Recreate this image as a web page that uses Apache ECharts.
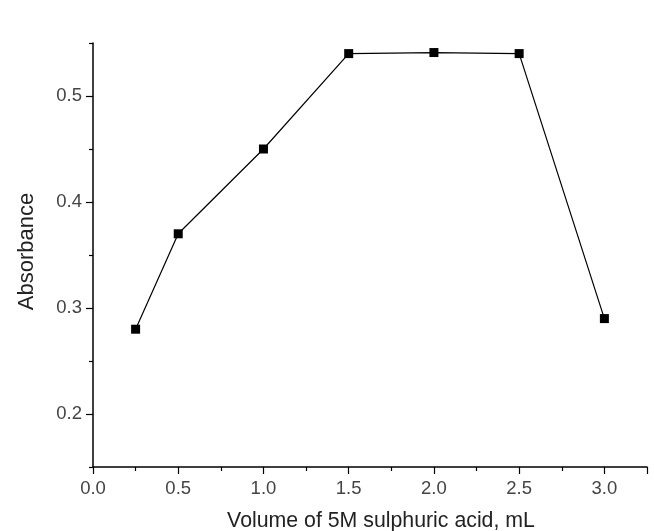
<!DOCTYPE html>
<html><head><meta charset="utf-8">
<script src="https://cdn.jsdelivr.net/npm/echarts@6/dist/echarts.min.js"></script>
<style>html,body{margin:0;padding:0;background:#fff}#c{width:654px;height:531px}</style>
</head><body><div id="c"></div>
<script>
const volumes = [0.25, 0.5, 1.0, 1.5, 2.0, 2.5, 3.0];
const absorbance = [0.28, 0.37, 0.45, 0.54, 0.541, 0.54, 0.29];
const xTitle = 'Volume of 5M sulphuric acid, mL';
const yTitle = 'Absorbance';
const yMajorTicks = [0.2, 0.3, 0.4, 0.5];
const yMinorTicks = [0.15, 0.25, 0.35, 0.45, 0.55];

const chart = echarts.init(document.getElementById('c'));
const font = '"Liberation Sans", Arial, Helvetica, sans-serif';
const tickLine = {color: '#000', width: 1.2};
chart.setOption({
  animation: false,
  backgroundColor: '#fff',
  grid: {left: 93, right: 7, top: 43, bottom: 64, containLabel: false, outerBoundsMode: 'none'},
  xAxis: {
    type: 'value', min: 0, max: 3.25, interval: 0.5,
    name: xTitle, nameLocation: 'middle', nameGap: 44,
    nameTextStyle: {fontFamily: font, fontSize: 21.3, color: '#222', padding: [0, 0, 0, 22]},
    axisLine: {show: true, onZero: false, lineStyle: {color: '#000', width: 1.5}},
    axisTick: {show: true, inside: false, length: 7, lineStyle: tickLine},
    minorTick: {show: true, splitNumber: 2, length: 4, lineStyle: tickLine},
    splitLine: {show: false},
    axisLabel: {fontFamily: font, fontSize: 18.5, color: '#444', margin: 12,
      formatter: v => v.toFixed(1), showMaxLabel: false}
  },
  yAxis: [{
    type: 'value', min: 0.15, max: 0.55,
    name: yTitle, nameLocation: 'middle', nameGap: 55, nameRotate: 90,
    nameTextStyle: {fontFamily: font, fontSize: 22, color: '#222', padding: [0, 0, 0, 7]},
    axisLine: {show: true, onZero: false, lineStyle: {color: '#000', width: 1.5}},
    axisTick: {show: true, length: 7, customValues: yMajorTicks, lineStyle: tickLine},
    splitLine: {show: false},
    axisLabel: {fontFamily: font, fontSize: 18.5, color: '#444', margin: 11,
      customValues: yMajorTicks, formatter: v => v.toFixed(1)}
  }, {
    type: 'value', position: 'left', min: 0.15, max: 0.55,
    axisLine: {show: false},
    axisTick: {show: true, length: 4, customValues: yMinorTicks, lineStyle: tickLine},
    splitLine: {show: false},
    axisLabel: {show: false}
  }],
  series: [{
    type: 'line', data: volumes.map((v, i) => [v, absorbance[i]]),
    symbol: 'rect', symbolSize: 9,
    itemStyle: {color: '#000'},
    lineStyle: {color: '#000', width: 1.2}
  }]
});
</script></body></html>
